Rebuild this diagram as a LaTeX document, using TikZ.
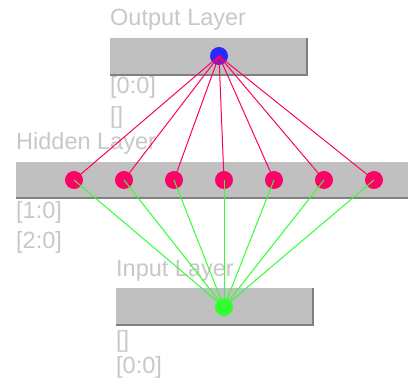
\documentclass[tikz,border=0pt]{standalone}
\usepackage{fontspec}
\setmainfont{Liberation Sans}
\definecolor{lbl}{RGB}{200,200,200}
\definecolor{boxfill}{RGB}{192,192,192}
\definecolor{boxshade}{RGB}{128,128,128}
\definecolor{redn}{RGB}{255,0,102}
\definecolor{bluen}{RGB}{40,40,255}
\definecolor{greenn}{RGB}{50,255,50}
\begin{document}
\begin{tikzpicture}[x=1pt,y=-1pt,
  lbltext/.style={anchor=base west,inner sep=0pt,text=lbl,font=\fontsize{23.5}{23.5}\selectfont},
  layerbox/.style={fill=boxfill,draw=none},
  neuron/.style={circle,inner sep=0pt,minimum size=18pt},
  redlink/.style={draw=redn,line width=1pt},
  greenlink/.style={draw=greenn,line width=1pt}]
\fill[white] (0,0) rectangle (408,387);
\useasboundingbox (0,0) rectangle (408,387);
% output layer
\fill[layerbox] (110,38) rectangle (308,76);
\draw[boxshade,line width=1.5pt] (110,75.2) -- (307.2,75.2) -- (307.2,38);
\node[lbltext] (tout) at (110,26) {Output Layer};
\node[lbltext] (oa) at (110,94) {[0:0]};
\node[lbltext] (ob) at (110,124) {[]};
% hidden layer
\fill[layerbox] (16,162) rectangle (408,199);
\draw[boxshade,line width=1.5pt] (16,198.2) -- (408,198.2);
\node[lbltext] (thid) at (16,150) {Hidden Layer};
\node[lbltext] (ha) at (16,219) {[1:0]};
\node[lbltext] (hb) at (16,249) {[2:0]};
% input layer
\fill[layerbox] (116,288) rectangle (314,326);
\draw[boxshade,line width=1.5pt] (116,325.2) -- (313.2,325.2) -- (313.2,288);
\node[lbltext] (tin) at (116,277) {Input Layer};
\node[lbltext] (ia) at (116,348) {[]};
\node[lbltext] (ib) at (116,374) {[0:0]};
% neurons
\node[neuron,fill=bluen] (o) at (219,56) {};
\foreach \i/\x in {1/74,2/124,3/174,4/224,5/274,6/324,7/374}
  \node[neuron,fill=redn] (h\i) at (\x,180) {};
\node[neuron,fill=greenn] (in) at (224,307) {};
% links
\foreach \i in {1,...,7} {
  \draw[redlink] (o.center) -- (h\i.center);
  \draw[greenlink] (h\i.center) -- (in.center);
}
\end{tikzpicture}
\end{document}
